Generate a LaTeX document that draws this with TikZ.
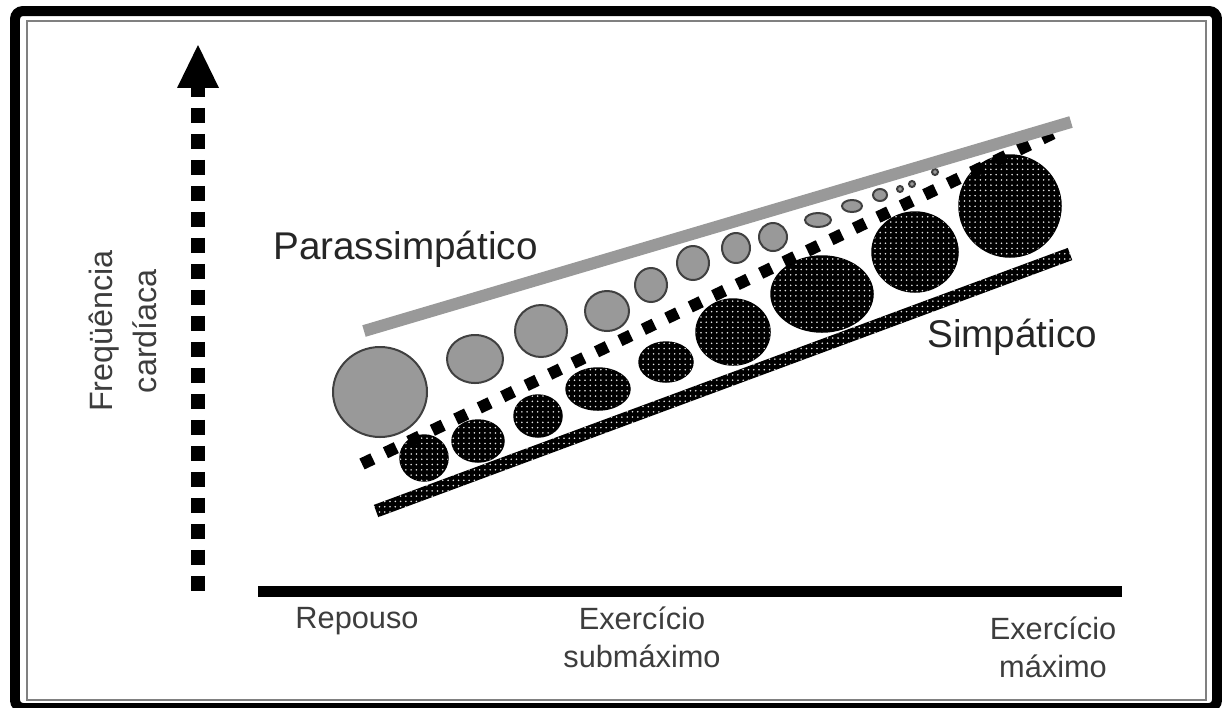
\documentclass[tikz,border=0pt]{standalone}
\usepackage{fontspec}
\setmainfont{Liberation Sans}
\usetikzlibrary{arrows.meta,calc,patterns}
\definecolor{paragray}{gray}{0.6}
\definecolor{txtgray}{gray}{0.24}
\tikzset{
  paraball/.style={fill=paragray, draw=black!75, line width=0.04cm},
  symball/.style={fill=black, draw=black, line width=0.03cm, postaction={pattern=dots, pattern color=white!90!black}},
  symband/.style={fill=black, postaction={pattern=dots, pattern color=white!90!black}},
  axistext/.style={font=\fontsize{17.5}{21.6}\selectfont},
  curvetext/.style={font=\fontsize{22}{26}\selectfont, text=black!85, anchor=base west}
}
\begin{document}
\begin{tikzpicture}[x=0.02cm, y=-0.02cm, every node/.style={text=txtgray, inner sep=0pt}]
  \useasboundingbox (0,0) rectangle (1222,707);
  % frame
  \draw[line width=0.2cm, rounded corners=0.16cm] (15,11) rectangle (1217,708);
  \draw[gray, line width=0.05cm] (27,21) rectangle (1206,700);

  % axes
  \draw[line width=0.28cm, dash pattern=on 0.3cm off 0.22cm, dash phase=0.12cm,
        {Triangle[length=0.86cm, width=0.84cm, line width=0pt]}-] (198,45) -- (198,593);
  \draw[line width=0.22cm] (258,591) -- (1122,591);

  % parassimpatico balls
  \foreach \cx/\cy/\rx/\ry in {380/392/47/45, 475/359/28/24, 541/331/26/26, 607/311/22/20,
      651/285/16/17, 693/263/16/17, 736/248/14/15, 773/237/14/14, 818/220/13/7,
      852/206/10/6, 880/195/7/6, 900/189/3/3, 912/184/3/3, 935/172/3/3}
    \path[paraball] (\cx,\cy) ellipse ({\rx} and {\ry});

  % simpatico balls
  \foreach \cx/\cy/\rx/\ry in {424/458/24/23, 478/441/26/21, 538/416/24/21, 598/389/32/21,
      666/362/27/20, 733/332/37/33, 822/294/51/38, 915/252/43/40, 1010/206/51/51}
    \path[symball] (\cx,\cy) ellipse ({\rx} and {\ry});

  % separator
  \draw[line width=0.24cm, dash pattern=on 0.24cm off 0.28cm] (362,464) -- (1058,131);

  % curves
  \draw[paragray, line width=0.24cm] (364,331) -- (1071,122);
  \coordinate (bandA) at (376,511);
  \coordinate (bandB) at (1070,254);
  \path[symband] ($(bandA)!0.13cm!90:(bandB)$) -- ($(bandB)!0.13cm!-90:(bandA)$)
    -- ($(bandB)!0.13cm!90:(bandA)$) -- ($(bandA)!0.13cm!-90:(bandB)$) -- cycle;

  % labels
  \node[curvetext] (parass) at (273,259) {Parassimpático};
  \node[curvetext] (simpat) at (927,347) {Simpático};
  \node[font=\fontsize{18.4}{25}\selectfont, rotate=90, align=center] (freq) at (123,331) {Freqüência\\cardíaca};
  \node[axistext, anchor=base] (repouso) at (357,628) {Repouso};
  \node[axistext, align=center] (submax) at (642,637) {Exercício\\submáximo};
  \node[axistext, align=center] (maxim) at (1053,647) {Exercício\\máximo};
\end{tikzpicture}
\end{document}
